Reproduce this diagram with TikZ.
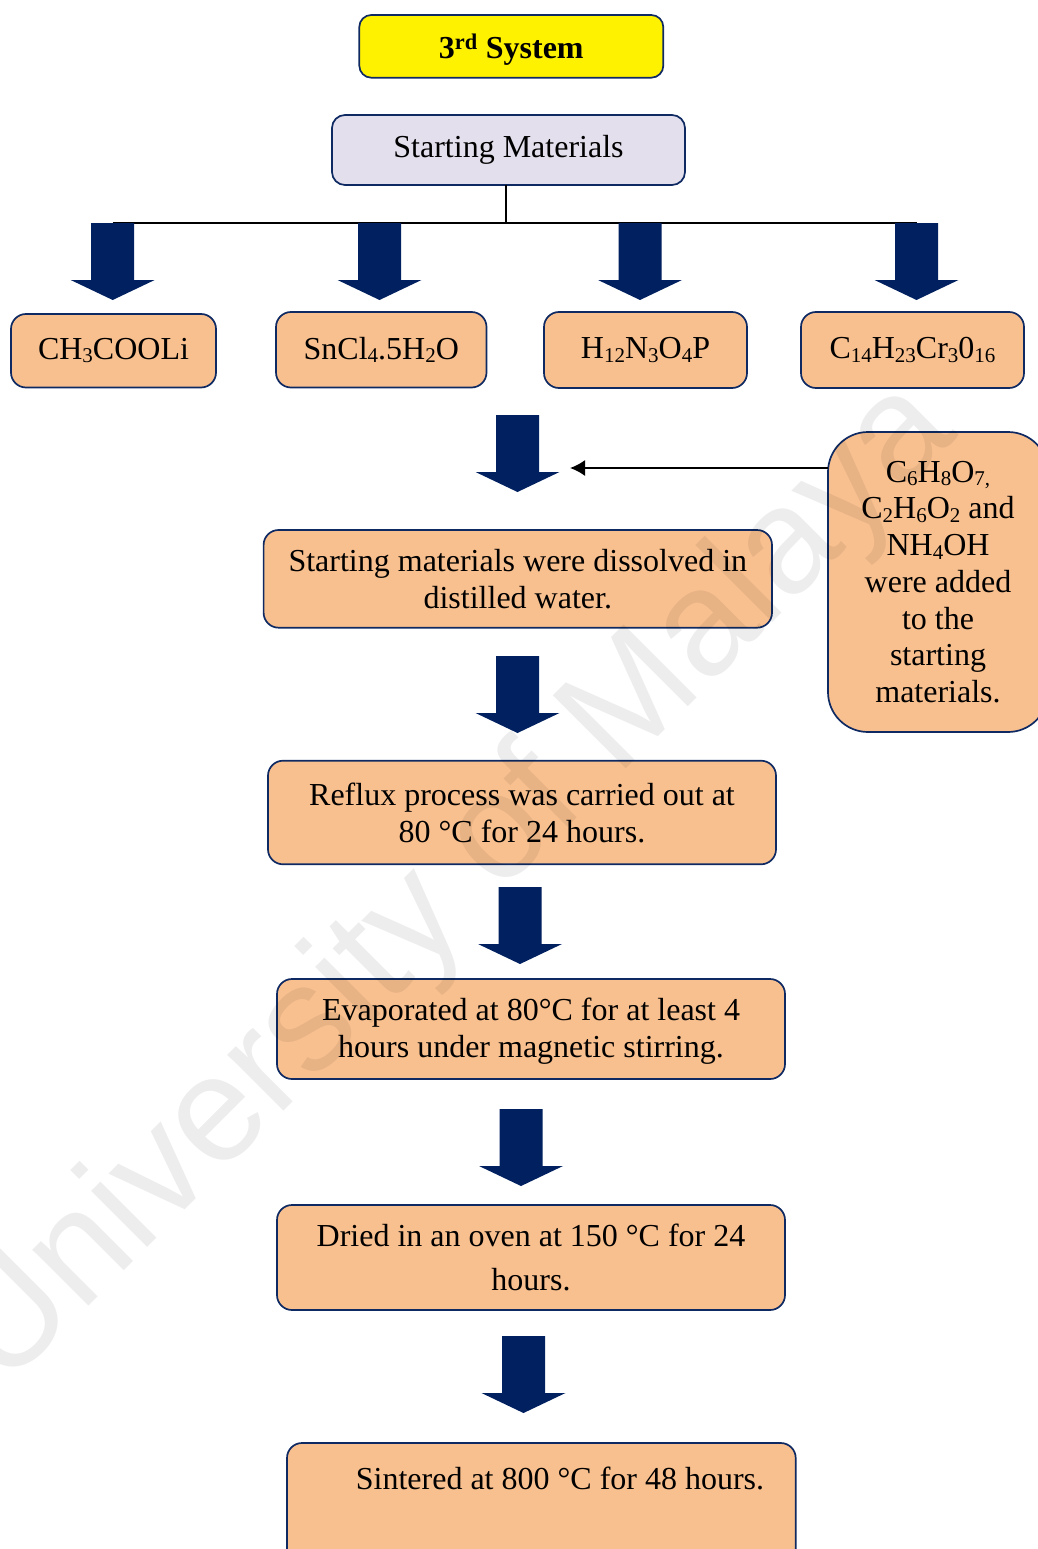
\documentclass[tikz,border=0pt]{standalone}
\usepackage{fontspec}
\setmainfont{Liberation Serif}
\newfontfamily\wmfont{Liberation Sans}
\usetikzlibrary{arrows.meta}
\definecolor{navyc}{HTML}{002060}
\definecolor{boxblue}{HTML}{0F2A62}
\definecolor{orangefill}{HTML}{F9C08F}
\definecolor{lavfill}{HTML}{E4DFEC}
\newcommand\sbs[1]{\raisebox{-3.5pt}{\fontsize{21}{21}\selectfont #1}}
\begin{document}
\begin{tikzpicture}[x=1pt,y=-1pt,
  every node/.style={font=\fontsize{32}{37}\selectfont, inner sep=0pt, outer sep=0pt},
  obox/.style={draw=boxblue, line width=1.7pt, fill=orangefill, rounded corners=15pt, align=center},
  barrow/.pic={\fill[navyc] (-21.5,0) -- (21.5,0) -- (21.5,57) -- (42,57) -- (0,77) -- (-42,57) -- (-21.5,57) -- cycle;}
]
\useasboundingbox (0,0) rectangle (1038,1549);
\clip (0,0) rectangle (1038,1549);

% title and starting materials
\node[draw=boxblue, line width=1.7pt, fill=yellow, rounded corners=12pt,
      minimum width=304, minimum height=62.7, text height=24pt, text depth=0pt,
      font=\bfseries\fontsize{32}{37}\selectfont] (title) at (511.3,46.35) {3\textsuperscript{rd} System};
\node[draw=boxblue, line width=1.7pt, fill=lavfill, rounded corners=13pt,
      minimum width=353, minimum height=70] (sm) at (508.5,150) {Starting Materials};

% branching line
\coordinate (hl) at (506,223);
\coordinate (hlL) at (112.7,223);
\coordinate (hlR) at (916.5,223);
\draw[line width=1.8pt] (sm.south -| hl) -- (hl);
\draw[line width=1.8pt] (hlL) -- (hlR);

% block arrows of the first row
\pic (a1) at (112.7,223) {barrow};
\pic (a2) at (379.5,223) {barrow};
\pic (a3) at (640,223) {barrow};
\pic (a4) at (916.5,223) {barrow};

% material boxes
\node[obox, minimum width=205, minimum height=73.5] (m1) at (113.5,350.75) {CH\sbs{3}COOLi};
\node[obox, minimum width=210.5, minimum height=75.5] (m2) at (381.25,349.75) {SnCl\sbs{4}.5H\sbs{2}O};
\node[obox, minimum width=203, minimum height=76] (m3) at (645.5,350) {H\sbs{12}N\sbs{3}O\sbs{4}P};
\node[obox, minimum width=223, minimum height=76] (m4) at (912.5,350) {C\sbs{14}H\sbs{23}Cr\sbs{3}0\sbs{16}};

% side box and its arrow
\node[obox, rounded corners=40pt, minimum width=220, minimum height=300] (side) at (938,582)
  {C\sbs{6}H\sbs{8}O\sbs{7,}\\[-0.3pt]
   C\sbs{2}H\sbs{6}O\sbs{2} and\\[-0.3pt]
   NH\sbs{4}OH\\[-0.3pt]
   were added\\[-0.3pt]
   to the\\[-0.3pt]
   starting\\[-0.3pt]
   materials.};
\coordinate (hx) at (570,468);
\draw[line width=1.8pt, -{Latex[length=15pt,width=16pt]}] (side.west |- hx) -- (hx);

% process chain
\pic (b1) at (517.5,415) {barrow};
\node[obox, minimum width=508.4, minimum height=97.7] (s1) at (517.8,578.85)
  {Starting materials were dissolved in\\distilled water.};
\pic (b2) at (517.5,656) {barrow};
\node[obox, minimum width=508, minimum height=103.6] (s2) at (522,812.5)
  {Reflux process was carried out at\\80 °C for 24 hours.};
\pic (b3) at (520,887) {barrow};
\node[obox, minimum width=508, minimum height=100] (s3) at (531,1029)
  {\rule{0pt}{27pt}Evaporated at 80°C for at least 4\\hours under magnetic stirring.};
\pic (b4) at (521,1109) {barrow};
\node[obox, minimum width=508, minimum height=105] (s4) at (531,1257.5)
  {Dried in an oven at 150 °C for 24\\[6.5pt]hours.};
\pic (b5) at (523.5,1336) {barrow};
\node[obox, minimum width=508.7, minimum height=122] (s5) at (541.35,1504) {};
\node (s5t) at (560,1478) {Sintered at 800 °C for 48 hours.};

% watermark
\node[rotate=45, text=black, opacity=0.07, font=\wmfont\fontsize{150}{150}\selectfont] (wm) at (455,885) {University of Malaya};
\end{tikzpicture}
\end{document}
